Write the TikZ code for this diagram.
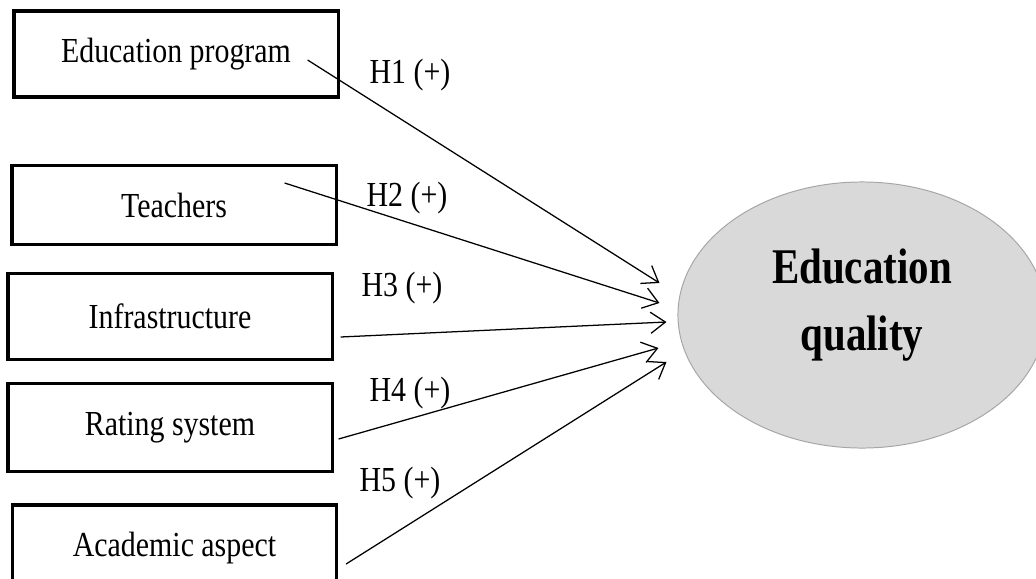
\documentclass[tikz,border=0pt]{standalone}
\usepackage{fontspec}
\setmainfont{Liberation Serif}
\newfontfamily\boxfont[FakeStretch=0.85]{Liberation Serif}
\newfontfamily\qualfont[FakeStretch=0.82]{Liberation Serif}
\usetikzlibrary{arrows.meta,shapes.geometric,calc}
\definecolor{qualfill}{HTML}{D9D9D9}
\definecolor{qualdraw}{HTML}{A6A6A6}

\begin{document}
\begin{tikzpicture}[
  x=0.025cm, y=-0.025cm,
  factor/.style={
    draw, line width=2.2pt, inner sep=0pt,
    minimum width=8.1cm, minimum height=2.15cm,
    font=\boxfont\fontsize{25}{30}\selectfont
  },
  target/.style ={ellipse, draw=qualdraw, fill=qualfill, line width=0.7pt,
    minimum width=9.2cm, minimum height=6.65cm, inner sep=0pt},
  qualtext/.style={align=center, inner sep=0pt,
    font=\qualfont\bfseries\fontsize{35.5}{47.7}\selectfont},
  hlbl/.style  ={inner sep=0pt, font=\boxfont\fontsize{25}{30}\selectfont},
  hyp/.style   ={-{Straight Barb[length=10.5pt,width=15pt]}, line width=0.9pt}
]
\useasboundingbox (0,0) rectangle (1036,578);

% =================== FACTORS ===================
\node[factor] (prog)   at (176,54)    {Education program};
\node[factor, minimum height=1.98cm] (teach) at (174,205) {Teachers};
\node[factor] (infra)  at (170,316.5) {Infrastructure};
\node[factor, minimum height=2.2cm] (rating) at (170,427.5) {Rating system};
\node[factor] (acad)   at (174.5,548) {Academic aspect};

% =================== OUTCOME ===================
\node[target]   (qual)    at (862,315) {};
\node[qualtext] (qualtxt) at (862,305) {Education\\quality};

% =================== LABELS ===================
\node[hlbl] (h1) at (410,75)  {H1 (+)};
\node[hlbl] (h2) at (407,198) {H2 (+)};
\node[hlbl] (h3) at (402,288) {H3 (+)};
\node[hlbl] (h4) at (410,393) {H4 (+)};
\node[hlbl] (h5) at (400,483) {H5 (+)};

% =================== ARROWS ===================
\draw[hyp] ($(prog.east)+(-32,6)$)    -- ($(qual.west)+(-18,-32)$);
\draw[hyp] ($(teach.east)+(-53,-22)$) -- ($(qual.west)+(-18,-12)$);
\draw[hyp] ($(infra.east)+(7,20.5)$)  -- ($(qual.west)+(-11,7)$);
\draw[hyp] ($(rating.east)+(5,11.5)$) -- ($(qual.west)+(-19,33)$);
\draw[hyp] ($(acad.east)+(8,16)$)     -- ($(qual.west)+(-11,47)$);

\end{tikzpicture}
\end{document}
